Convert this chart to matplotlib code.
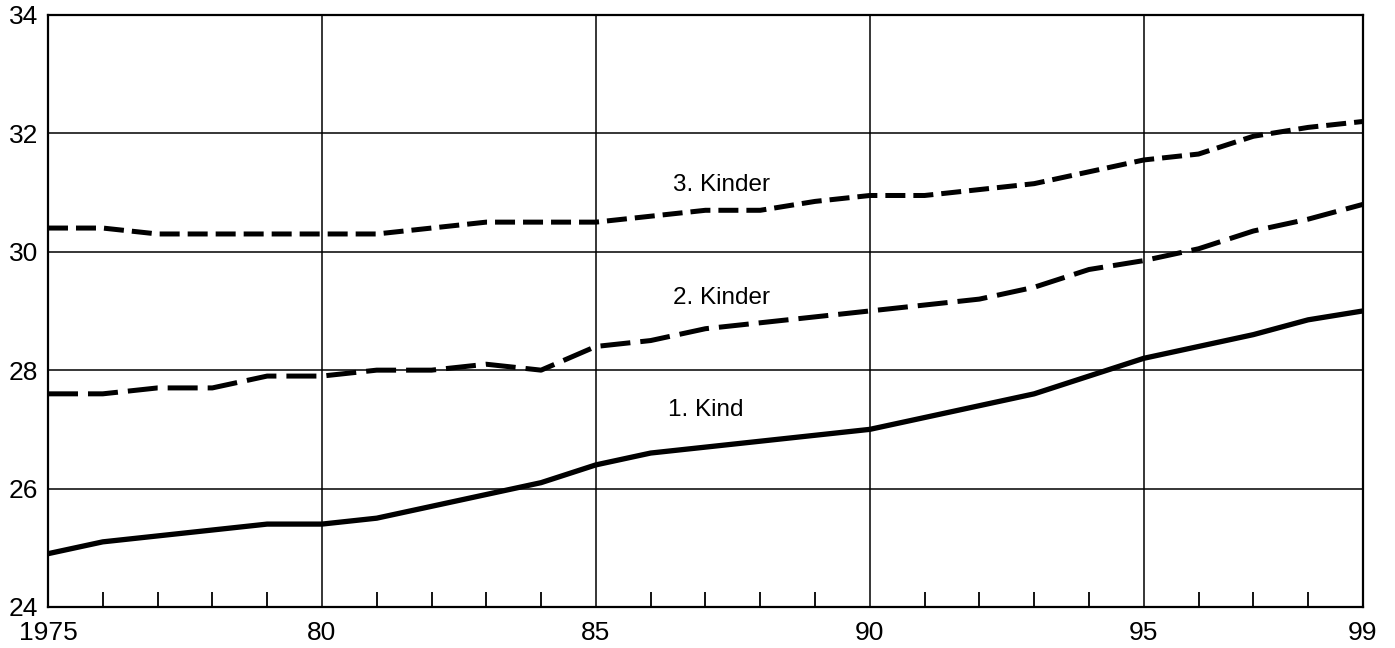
import matplotlib
matplotlib.use("Agg")
import matplotlib.pyplot as plt
from matplotlib.ticker import MultipleLocator, FixedLocator

plt.rcParams['font.family'] = ['Liberation Sans', 'DejaVu Sans']

# Durchschnittsalter der Mutter bei Geburt (früheres Bundesgebiet)
jahre = list(range(1975, 2000))
kind1 = [24.9, 25.1, 25.2, 25.3, 25.4, 25.4, 25.5, 25.7, 25.9, 26.1,
         26.4, 26.6, 26.7, 26.8, 26.9, 27.0, 27.2, 27.4, 27.6, 27.9,
         28.2, 28.4, 28.6, 28.85, 29.0]
kind2 = [27.6, 27.6, 27.7, 27.7, 27.9, 27.9, 28.0, 28.0, 28.1, 28.0,
         28.4, 28.5, 28.7, 28.8, 28.9, 29.0, 29.1, 29.2, 29.4, 29.7,
         29.85, 30.05, 30.35, 30.55, 30.8]
kind3 = [30.4, 30.4, 30.3, 30.3, 30.3, 30.3, 30.3, 30.4, 30.5, 30.5,
         30.5, 30.6, 30.7, 30.7, 30.85, 30.95, 30.95, 31.05, 31.15, 31.35,
         31.55, 31.65, 31.95, 32.1, 32.2]
x_ticks = [1975, 1980, 1985, 1990, 1995, 1999]
x_labels = ['1975', '80', '85', '90', '95', '99']

fig = plt.figure(figsize=(13.95, 6.48), dpi=100)
ax = fig.add_axes([0.0344, 0.0633, 0.9426, 0.9137])

ax.plot(jahre, kind1, color='black', lw=3.8, solid_capstyle='butt', zorder=3)
ax.plot(jahre, kind2, color='black', lw=3.6, linestyle=(0, (6, 2)), zorder=3)
ax.plot(jahre, kind3, color='black', lw=3.6, linestyle=(0, (4, 1.6)), zorder=3)

ax.text(1987.3, 31.13, '3. Kinder', fontsize=17.5, ha='center', va='center')
ax.text(1987.3, 29.22, '2. Kinder', fontsize=17.5, ha='center', va='center')
ax.text(1987.0, 27.33, '1. Kind', fontsize=17.5, ha='center', va='center')

ax.set_xlim(1975, 1999)
ax.set_ylim(24, 34)
ax.xaxis.set_major_locator(FixedLocator(x_ticks))
ax.set_xticklabels(x_labels)
ax.xaxis.set_minor_locator(MultipleLocator(1))
ax.yaxis.set_major_locator(MultipleLocator(2))

ax.grid(True, which='major', color='black', lw=1.1)
ax.tick_params(axis='x', which='major', length=0, pad=10, labelsize=19)
ax.tick_params(axis='x', which='minor', direction='in', length=11, width=1.3, color='black')
ax.tick_params(axis='y', which='major', length=0, pad=7, labelsize=19)
for s in ax.spines.values():
    s.set_linewidth(1.6)

fig.savefig('out.png', dpi=100)
